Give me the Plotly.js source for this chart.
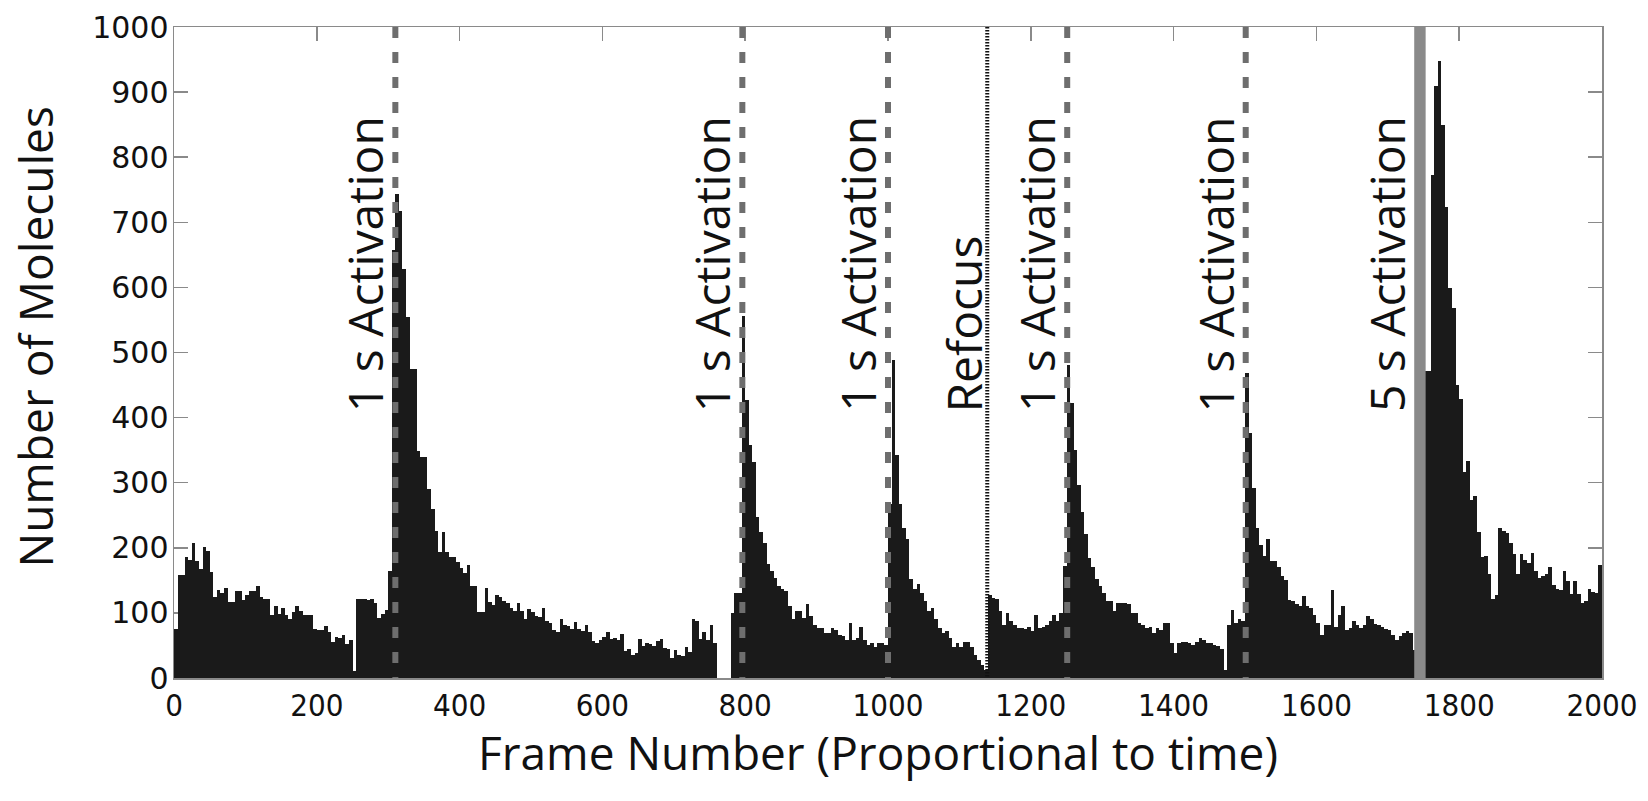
<!DOCTYPE html>
<html>
<head>
<meta charset="utf-8">
<script src="https://cdn.plot.ly/plotly-3.0.1.min.js"></script>
<style>
  html, body { margin: 0; padding: 0; background: #ffffff; }
  #chart { width: 1648px; height: 801px; }
</style>
</head>
<body>
<div id="chart"></div>
<script>
// Molecule counts per 5-frame bin (frames 0-5, 5-10, ..., 1995-2000)
const moleculeCounts = [
  76, 158, 158, 186, 181, 208, 179, 168, 202, 195,
  163, 125, 135, 130, 139, 117, 117, 134, 134, 120,
  127, 134, 134, 141, 124, 122, 122, 97, 111, 98,
  107, 97, 91, 102, 111, 103, 97, 97, 97, 76,
  74, 74, 80, 71, 56, 63, 61, 66, 53, 58,
  10, 121, 122, 122, 120, 121, 115, 92, 99, 104,
  165, 658, 744, 717, 628, 554, 474, 474, 348, 340,
  340, 291, 259, 226, 194, 225, 193, 186, 186, 178,
  169, 162, 174, 142, 142, 101, 101, 139, 116, 112,
  127, 124, 119, 115, 108, 103, 115, 103, 91, 106,
  101, 95, 94, 108, 88, 85, 74, 70, 90, 82,
  80, 76, 86, 75, 72, 81, 70, 57, 54, 59,
  63, 70, 60, 62, 58, 67, 41, 45, 36, 39,
  60, 49, 54, 53, 49, 57, 60, 46, 44, 31,
  43, 36, 34, 48, 40, 90, 88, 60, 70, 59,
  82, 54, 0, 0, 0, 0, 100, 131, 131, 556,
  427, 358, 332, 247, 224, 208, 175, 164, 154, 141,
  136, 134, 110, 90, 103, 103, 92, 113, 95, 82,
  77, 77, 69, 69, 77, 74, 66, 64, 59, 85,
  59, 61, 79, 59, 51, 54, 48, 54, 54, 51,
  268, 489, 342, 268, 231, 213, 152, 136, 144, 131,
  118, 103, 108, 90, 77, 69, 72, 61, 48, 54,
  48, 56, 56, 48, 36, 28, 20, 12, 128, 123,
  121, 103, 82, 100, 87, 82, 77, 77, 76, 79,
  72, 97, 77, 79, 82, 87, 97, 87, 100, 172,
  481, 422, 350, 296, 255, 221, 185, 170, 152, 141,
  131, 118, 118, 103, 115, 115, 115, 113, 100, 100,
  85, 82, 77, 79, 69, 77, 74, 84, 84, 54,
  38, 54, 55, 55, 54, 51, 56, 61, 59, 54,
  54, 51, 49, 45, 13, 82, 105, 85, 90, 87,
  468, 377, 292, 230, 205, 187, 213, 179, 179, 171,
  157, 151, 120, 118, 113, 111, 126, 110, 107, 97,
  84, 66, 82, 82, 135, 79, 97, 110, 74, 77,
  88, 82, 77, 82, 95, 90, 83, 82, 79, 75,
  74, 66, 59, 64, 69, 72, 69, 43, 40, 250,
  472, 472, 772, 910, 948, 850, 723, 599, 568, 450,
  429, 317, 333, 273, 280, 225, 186, 188, 159, 122,
  127, 230, 226, 223, 208, 190, 159, 190, 182, 177,
  192, 164, 153, 156, 159, 170, 143, 137, 135, 164,
  149, 129, 149, 129, 115, 118, 137, 132, 130, 173
];

// Events (frame numbers)
const activationFrames = [310, 796, 1000, 1251, 1501];
const activationLabels = ["1 s Activation", "1 s Activation", "1 s Activation", "1 s Activation", "1 s Activation"];
const refocusFrame = 1139;
const refocusLabel = "Refocus";
const longActivationSpan = [1737, 1753];
const longActivationLabel = "5 s Activation";

const xTickValues = [0, 200, 400, 600, 800, 1000, 1200, 1400, 1600, 1800, 2000];
const yTickValues = [0, 100, 200, 300, 400, 500, 600, 700, 800, 900, 1000];

const xTitleText = 'Frame Number (Proportional to time)';
const yTitleText = 'Number of Molecules';

const labelBottom = 405;

const trace = {
  type: 'bar',
  y: moleculeCounts,
  x0: 2.5,
  dx: 5,
  width: 5,
  marker: { color: '#1a1a1a', line: { width: 0 } },
  hoverinfo: 'x+y'
};

const shapes = [];
activationFrames.forEach(f => {
  shapes.push({
    type: 'line', xref: 'x', yref: 'paper',
    x0: f, x1: f, y0: 1, y1: 0,
    line: { color: '#6e6e6e', width: 6, dash: '11px,14px' },
    layer: 'above'
  });
});
shapes.push({
  type: 'line', xref: 'x', yref: 'paper',
  x0: refocusFrame, x1: refocusFrame, y0: 1, y1: 0,
  line: { color: '#111111', width: 4, dash: '1.5px,1.5px' },
  layer: 'above'
});
shapes.push({
  type: 'rect', xref: 'x', yref: 'paper',
  x0: longActivationSpan[0], x1: longActivationSpan[1], y0: 0, y1: 1,
  fillcolor: '#8a8a8a', line: { width: 0 },
  layer: 'above'
});

const titleFont = { family: 'Open Sans, sans-serif', size: 46, color: '#111111' };
const annFont = { family: 'Open Sans, sans-serif', size: 48, color: '#111111' };
const annotations = [];
activationFrames.forEach((f, i) => {
  annotations.push({
    x: f, y: labelBottom, xref: 'x', yref: 'y',
    text: activationLabels[i], textangle: -90, showarrow: false,
    xanchor: 'right', yanchor: 'bottom', xshift: 4,
    font: annFont
  });
});
annotations.push({
  x: refocusFrame, y: labelBottom, xref: 'x', yref: 'y',
  text: refocusLabel, textangle: -90, showarrow: false,
  xanchor: 'right', yanchor: 'bottom', xshift: 11,
  font: annFont
});
annotations.push({
  x: longActivationSpan[0], y: labelBottom, xref: 'x', yref: 'y',
  text: longActivationLabel, textangle: -90, showarrow: false,
  xanchor: 'right', yanchor: 'bottom', xshift: 7,
  font: annFont
});
// axis titles as annotations for exact placement
annotations.push({
  x: -0.0976, y: 0.524, xref: 'paper', yref: 'paper',
  text: yTitleText, textangle: -90, showarrow: false,
  xanchor: 'center', yanchor: 'middle', font: titleFont
});
annotations.push({
  x: 0.493, y: -0.1137, xref: 'paper', yref: 'paper',
  text: xTitleText, showarrow: false,
  xanchor: 'center', yanchor: 'middle', font: titleFont
});

const layout = {
  width: 1648, height: 801,
  margin: { l: 174, r: 46, t: 27, b: 123 },
  paper_bgcolor: '#ffffff', plot_bgcolor: '#ffffff',
  showlegend: false,
  bargap: 0,
  xaxis: {
    range: [0, 2000], tickvals: xTickValues, ticktext: xTickValues.map(String),
    ticks: 'inside', ticklen: 14, tickwidth: 1.5, tickcolor: '#8a8a8a',
    showline: true, linecolor: '#8a8a8a', linewidth: 1.5, mirror: 'ticks',
    showgrid: false, zeroline: false, layer: 'below traces',
    ticklabelstandoff: -1,
    tickfont: { family: 'Liberation Sans Narrow, DejaVu Sans Condensed, sans-serif', size: 31, color: '#111111' }
  },
  yaxis: {
    range: [0, 1000], tickvals: yTickValues, ticktext: yTickValues.map(String),
    ticks: 'inside', ticklen: 14, tickwidth: 1.5, tickcolor: '#8a8a8a',
    showline: true, linecolor: '#8a8a8a', linewidth: 1.5, mirror: 'ticks',
    showgrid: false, zeroline: false, layer: 'below traces',
    ticklabelstandoff: -2,
    tickfont: { family: 'DejaVu Sans, sans-serif', size: 30, color: '#111111' }
  },
  shapes: shapes,
  annotations: annotations
};

Plotly.newPlot('chart', [trace], layout, { displayModeBar: false, staticPlot: true });
</script>
</body>
</html>
